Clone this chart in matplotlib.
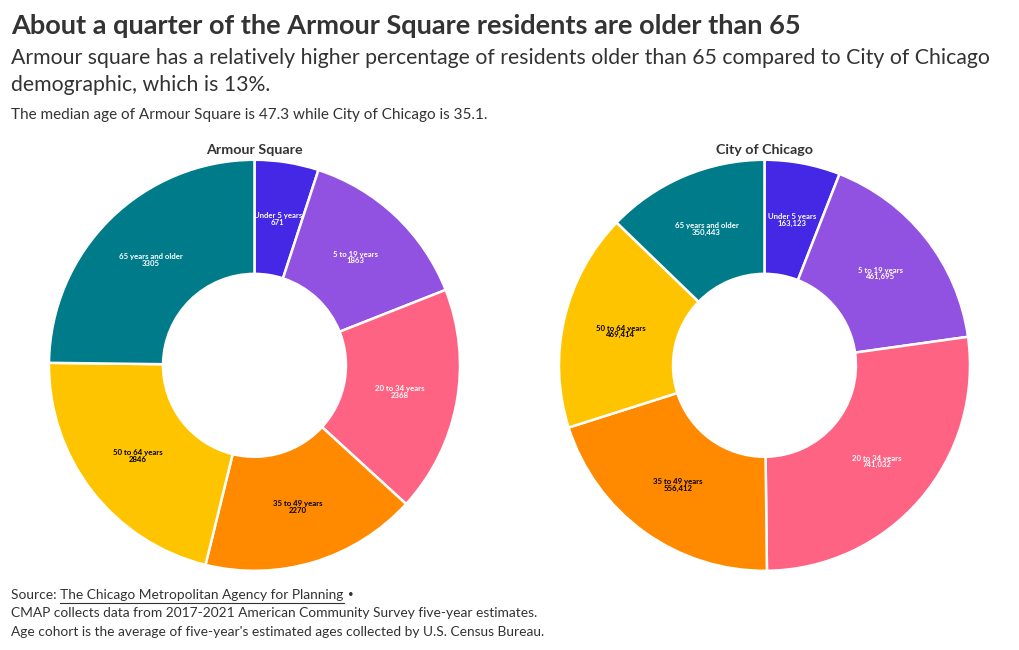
import matplotlib
matplotlib.use("Agg")
import matplotlib.pyplot as plt
import numpy as np

plt.rcParams['font.family'] = ['Lato', 'DejaVu Sans']

# age cohorts, clockwise from the top
groups = ["Under 5 years", "5 to 19 years", "20 to 34 years",
          "35 to 49 years", "50 to 64 years", "65 years and older"]
armour = [671, 1863, 2368, 2270, 2846, 3305]
chicago = [163123, 461695, 741032, 556412, 469414, 350443]
colors = ["#4527e6", "#9151e1", "#ff6384", "#ff8a00", "#ffc400", "#007b8a"]
text_colors = ["white", "white", "white", "black", "black", "white"]

fig = plt.figure(figsize=(10.2, 6.5), dpi=100)
W, H = 1020, 650

fig.text(0.011, 0.96, "About a quarter of the Armour Square residents are older than 65",
         fontsize=19.5, fontweight="bold", color="#333333", va="center")
fig.text(0.011, 0.911, "Armour square has a relatively higher percentage of residents older than 65 compared to City of Chicago",
         fontsize=15.3, color="#333333", va="center")
fig.text(0.011, 0.869, "demographic, which is 13%.",
         fontsize=15.3, color="#333333", va="center")
fig.text(0.011, 0.823, "The median age of Armour Square is 47.3 while City of Chicago is 35.1.",
         fontsize=11, color="#333333", va="center")


def donut(ax, values, title, fmt):
    ax.pie(values, colors=colors, startangle=90, counterclock=False, radius=1.0,
           wedgeprops=dict(width=0.555, edgecolor="white", linewidth=1.8))
    total = sum(values)
    cum = 0
    for i, v in enumerate(values):
        mid = cum + v / 2
        cum += v
        ang = np.deg2rad(90 - 360 * mid / total)
        r = 0.72
        ax.text(r * np.cos(ang), r * np.sin(ang), groups[i] + "\n" + fmt(v),
                ha="center", va="center", fontsize=5.6, fontweight="bold",
                color=text_colors[i], linespacing=0.9)
    ax.set_title(title, fontsize=10.3, fontweight="bold", color="#333333", pad=3)
    ax.set_xlim(-1.01, 1.01)
    ax.set_ylim(-1.01, 1.01)
    ax.set_aspect("equal")


ax1 = fig.add_axes([0.046, 0.118, 0.407, 0.64])
donut(ax1, armour, "Armour Square", lambda v: str(v))
ax2 = fig.add_axes([0.546, 0.118, 0.407, 0.64])
donut(ax2, chicago, "City of Chicago", lambda v: f"{v:,}")

fs = 9.9
t1 = fig.text(0.011, 0.085, "Source: ", fontsize=fs, color="#333333", va="center")
fig.canvas.draw()
r = fig.canvas.get_renderer()
x1 = t1.get_window_extent(r).x1 / W
t2 = fig.text(x1, 0.085, "The Chicago Metropolitan Agency for Planning", fontsize=fs,
              color="#333333", va="center")
fig.canvas.draw()
bb = t2.get_window_extent(r)
fig.add_artist(plt.Line2D([bb.x0 / W, bb.x1 / W], [0.073, 0.073],
                          color="#333333", linewidth=0.8))
fig.text(bb.x1 / W + 0.004, 0.085, "\u2022", fontsize=7, color="#333333", va="center")
fig.text(0.011, 0.057, "CMAP collects data from 2017-2021 American Community Survey five-year estimates.",
         fontsize=fs, color="#333333", va="center")
fig.text(0.011, 0.028, "Age cohort is the average of five-year's estimated ages collected by U.S. Census Bureau.",
         fontsize=fs, color="#333333", va="center")

fig.savefig("out.png", dpi=100, facecolor="white")
